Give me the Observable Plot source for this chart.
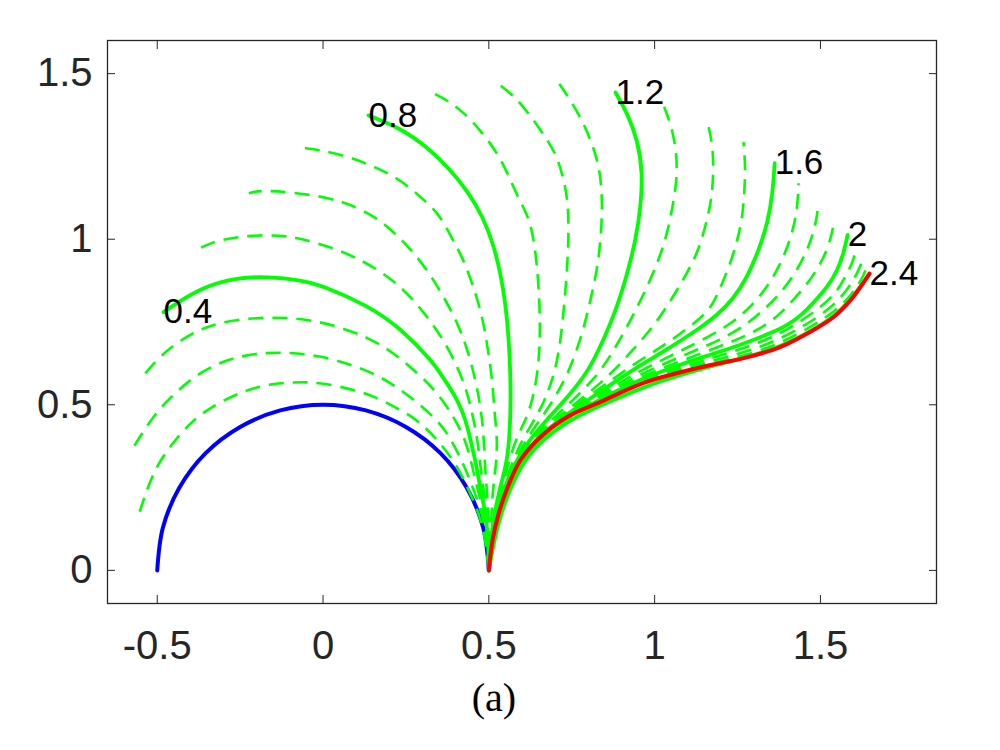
<!DOCTYPE html>
<html><head><meta charset="utf-8">
<script src="https://cdn.jsdelivr.net/npm/d3@7"></script>
<script src="https://cdn.jsdelivr.net/npm/@observablehq/plot@0.6"></script>
<style>
body{margin:0;background:#fff;}
#wrap{position:relative;width:1000px;height:750px;background:#fff;overflow:hidden;}
#cap{position:absolute;left:0;width:988px;top:675px;text-align:center;font-family:"Liberation Serif",serif;font-size:40px;line-height:46px;color:#000;}
</style></head><body><div id="wrap"><div id="chart"></div><div id="cap">(a)</div></div>
<script>
const xTicks = [-0.5, 0, 0.5, 1, 1.5];
const yTicks = [0, 0.5, 1, 1.5];
const levels = [0.1,0.2,0.3,0.4,0.5,0.6,0.7,0.8,0.9,1.0,1.1,1.2,1.3,1.4,1.5,1.6,1.7,1.8,1.9,2.0,2.1,2.2,2.3,2.4];
const labeledLevels = [0.4,0.8,1.2,1.6,2,2.4];

const initialCurve = [[-0.5,0],[-0.483,0.129],[-0.433,0.25],[-0.354,0.354],[-0.25,0.433],[-0.129,0.483],[0,0.5],[0.129,0.483],[0.25,0.433],[0.354,0.354],[0.433,0.25],[0.483,0.129],[0.5,0]];
const finalCurve = [[1.648,0.896],[1.592,0.817],[1.540,0.765],[1.479,0.726],[1.380,0.675],[1.281,0.644],[1.169,0.620],[1.069,0.596],[0.967,0.566],[0.837,0.509],[0.737,0.464],[0.656,0.403],[0.596,0.334],[0.557,0.252],[0.530,0.173],[0.511,0.091],[0.5,0]];

const g01 = [[-0.553,0.177],[-0.511,0.304],[-0.454,0.385],[-0.400,0.446],[-0.339,0.494],[-0.218,0.554],[-0.107,0.569],[-0.007,0.569],[0.134,0.536],[0.204,0.500],[0.264,0.468],[0.303,0.436],[0.346,0.394],[0.403,0.319],[0.439,0.244],[0.472,0.168],[0.490,0.093],[0.5,0]];
const g02 = [[-0.571,0.373],[-0.520,0.455],[-0.469,0.515],[-0.369,0.605],[-0.249,0.651],[-0.137,0.660],[-0.007,0.651],[0.134,0.605],[0.204,0.566],[0.264,0.524],[0.334,0.464],[0.376,0.416],[0.425,0.319],[0.454,0.244],[0.481,0.168],[0.494,0.093],[0.5,0]];
const g03 = [[-0.547,0.581],[-0.490,0.651],[-0.408,0.711],[-0.318,0.750],[-0.188,0.765],[-0.068,0.762],[0.032,0.741],[0.134,0.705],[0.213,0.657],[0.285,0.596],[0.346,0.536],[0.394,0.464],[0.430,0.394],[0.449,0.319],[0.466,0.244],[0.487,0.168],[0.497,0.093],[0.5,0]];
const g04 = [[-0.481,0.780],[-0.369,0.856],[-0.249,0.886],[-0.167,0.886],[-0.068,0.877],[-0.007,0.862],[0.134,0.801],[0.234,0.732],[0.334,0.627],[0.367,0.575],[0.406,0.515],[0.430,0.455],[0.445,0.394],[0.462,0.319],[0.475,0.244],[0.491,0.168],[0.498,0.093],[0.5,0]];
const g05 = [[-0.372,0.973],[-0.339,0.988],[-0.300,1.000],[-0.218,1.012],[-0.128,1.012],[-0.068,1.003],[0.023,0.976],[0.098,0.946],[0.183,0.898],[0.255,0.838],[0.315,0.765],[0.364,0.696],[0.406,0.614],[0.436,0.536],[0.454,0.455],[0.466,0.394],[0.474,0.319],[0.484,0.244],[0.495,0.168],[0.499,0.093],[0.5,0]];
const g06 = [[-0.224,1.139],[-0.188,1.148],[-0.098,1.142],[0.014,1.127],[0.104,1.097],[0.173,1.057],[0.225,1.010],[0.264,0.970],[0.315,0.907],[0.364,0.826],[0.406,0.747],[0.436,0.666],[0.460,0.575],[0.475,0.494],[0.484,0.416],[0.488,0.319],[0.494,0.244],[0.499,0.168],[0.501,0.093],[0.5,0]];
const g07 = [[-0.055,1.275],[-0.007,1.269],[0.083,1.248],[0.164,1.215],[0.234,1.179],[0.294,1.128],[0.346,1.080],[0.376,1.028],[0.400,0.982],[0.424,0.937],[0.454,0.856],[0.481,0.765],[0.496,0.675],[0.511,0.575],[0.517,0.476],[0.526,0.394],[0.522,0.319],[0.512,0.244],[0.508,0.168],[0.504,0.093],[0.5,0]];
const g08 = [[0.137,1.374],[0.234,1.335],[0.315,1.278],[0.385,1.209],[0.440,1.140],[0.482,1.067],[0.512,0.990],[0.535,0.900],[0.551,0.800],[0.560,0.700],[0.565,0.600],[0.566,0.500],[0.562,0.394],[0.553,0.319],[0.532,0.244],[0.516,0.168],[0.506,0.093],[0.5,0]];
const g09 = [[0.334,1.440],[0.376,1.419],[0.424,1.383],[0.475,1.329],[0.526,1.260],[0.556,1.200],[0.587,1.128],[0.617,1.073],[0.632,1.019],[0.644,0.937],[0.653,0.817],[0.655,0.700],[0.648,0.600],[0.632,0.515],[0.612,0.455],[0.580,0.394],[0.558,0.319],[0.537,0.244],[0.519,0.168],[0.507,0.093],[0.5,0]];
const g10 = [[0.526,1.471],[0.566,1.440],[0.596,1.410],[0.635,1.360],[0.677,1.299],[0.707,1.248],[0.726,1.178],[0.738,1.118],[0.741,1.037],[0.738,0.937],[0.729,0.817],[0.717,0.696],[0.700,0.600],[0.670,0.515],[0.638,0.455],[0.600,0.394],[0.568,0.319],[0.541,0.244],[0.521,0.168],[0.508,0.093],[0.5,0]];
const g11 = [[0.711,1.471],[0.747,1.419],[0.786,1.350],[0.816,1.278],[0.837,1.200],[0.843,1.097],[0.837,0.998],[0.828,0.916],[0.807,0.817],[0.783,0.717],[0.747,0.614],[0.720,0.560],[0.695,0.515],[0.655,0.455],[0.612,0.394],[0.572,0.319],[0.543,0.244],[0.522,0.168],[0.508,0.093],[0.5,0]];
const g12 = [[0.882,1.443],[0.918,1.380],[0.949,1.299],[0.964,1.200],[0.958,1.097],[0.943,0.998],[0.918,0.898],[0.887,0.795],[0.846,0.696],[0.798,0.596],[0.730,0.515],[0.675,0.455],[0.622,0.394],[0.575,0.319],[0.545,0.244],[0.523,0.168],[0.508,0.093],[0.5,0]];
const g13 = [[1.027,1.404],[1.048,1.350],[1.064,1.278],[1.069,1.200],[1.058,1.118],[1.039,1.019],[1.010,0.930],[0.970,0.840],[0.925,0.750],[0.880,0.670],[0.830,0.590],[0.755,0.515],[0.690,0.455],[0.628,0.394],[0.578,0.319],[0.547,0.244],[0.524,0.168],[0.509,0.093],[0.5,0]];
const g14 = [[1.160,1.353],[1.175,1.284],[1.178,1.209],[1.172,1.118],[1.154,1.043],[1.133,0.967],[1.095,0.892],[1.050,0.817],[1.000,0.741],[0.935,0.666],[0.860,0.584],[0.775,0.515],[0.700,0.455],[0.632,0.394],[0.580,0.319],[0.548,0.244],[0.525,0.168],[0.509,0.093],[0.5,0]];
const g15 = [[1.268,1.293],[1.274,1.218],[1.271,1.148],[1.265,1.067],[1.250,0.998],[1.229,0.928],[1.199,0.856],[1.169,0.786],[1.105,0.735],[1.030,0.680],[0.940,0.625],[0.850,0.560],[0.785,0.515],[0.706,0.455],[0.636,0.394],[0.582,0.319],[0.549,0.244],[0.525,0.168],[0.509,0.093],[0.5,0]];
const g16 = [[1.362,1.230],[1.356,1.139],[1.341,1.049],[1.314,0.967],[1.280,0.886],[1.235,0.817],[1.190,0.772],[1.130,0.727],[1.050,0.675],[0.950,0.615],[0.850,0.550],[0.800,0.515],[0.712,0.455],[0.639,0.394],[0.583,0.319],[0.550,0.244],[0.526,0.168],[0.510,0.093],[0.5,0]];
const g17 = [[1.434,1.169],[1.431,1.097],[1.416,1.019],[1.386,0.937],[1.341,0.856],[1.289,0.795],[1.240,0.752],[1.180,0.715],[1.100,0.673],[1.050,0.649],[0.950,0.599],[0.850,0.540],[0.815,0.515],[0.716,0.455],[0.641,0.394],[0.584,0.319],[0.551,0.244],[0.526,0.168],[0.510,0.093],[0.5,0]];
const g18 = [[1.495,1.112],[1.485,1.037],[1.461,0.967],[1.425,0.898],[1.380,0.837],[1.329,0.786],[1.270,0.737],[1.200,0.697],[1.150,0.676],[1.050,0.633],[0.950,0.589],[0.850,0.533],[0.825,0.515],[0.719,0.455],[0.643,0.394],[0.585,0.319],[0.551,0.244],[0.527,0.168],[0.510,0.093],[0.5,0]];
const g19 = [[1.543,1.061],[1.531,0.998],[1.507,0.937],[1.470,0.877],[1.419,0.817],[1.370,0.765],[1.310,0.725],[1.250,0.697],[1.150,0.659],[1.050,0.621],[0.950,0.581],[0.850,0.528],[0.721,0.455],[0.644,0.394],[0.586,0.319],[0.552,0.244],[0.527,0.168],[0.510,0.093],[0.5,0]];
const g20 = [[1.582,1.013],[1.570,0.958],[1.552,0.907],[1.522,0.856],[1.479,0.808],[1.440,0.768],[1.400,0.740],[1.350,0.716],[1.250,0.677],[1.150,0.646],[1.050,0.612],[0.950,0.574],[0.850,0.524],[0.722,0.455],[0.645,0.394],[0.587,0.319],[0.552,0.244],[0.527,0.168],[0.510,0.093],[0.5,0]];
const g21 = [[1.609,0.973],[1.597,0.928],[1.570,0.877],[1.540,0.826],[1.450,0.756],[1.350,0.700],[1.250,0.664],[1.150,0.635],[1.050,0.604],[0.950,0.570],[0.850,0.521],[0.723,0.455],[0.646,0.394],[0.587,0.319],[0.553,0.244],[0.527,0.168],[0.510,0.093],[0.5,0]];
const g22 = [[1.627,0.937],[1.612,0.898],[1.582,0.847],[1.530,0.790],[1.450,0.737],[1.350,0.685],[1.250,0.652],[1.150,0.627],[1.050,0.598],[0.950,0.566],[0.850,0.519],[0.724,0.455],[0.647,0.394],[0.588,0.319],[0.553,0.244],[0.528,0.168],[0.511,0.093],[0.5,0]];
const g23 = [[1.639,0.913],[1.625,0.880],[1.600,0.840],[1.550,0.785],[1.450,0.721],[1.350,0.673],[1.250,0.643],[1.150,0.620],[1.050,0.594],[0.950,0.562],[0.850,0.517],[0.725,0.455],[0.647,0.394],[0.588,0.319],[0.553,0.244],[0.528,0.168],[0.511,0.093],[0.5,0]];
const g24 = [[1.648,0.896],[1.592,0.817],[1.540,0.765],[1.479,0.726],[1.380,0.675],[1.281,0.644],[1.169,0.617],[1.075,0.589],[0.975,0.557],[0.848,0.503],[0.750,0.458],[0.668,0.400],[0.607,0.334],[0.566,0.252],[0.537,0.173],[0.516,0.091],[0.5,0]];

const greenCurves = [g01,g02,g03,g04,g05,g06,g07,g08,g09,g10,g11,g12,g13,g14,g15,g16,g17,g18,g19,g20,g21,g22,g23,g24];

// rows drawn from the clamped base (0.5, 0) out to the free tip
const toRows = (pts, t) => pts.slice().reverse().map(([x, y]) => ({t, x, y}));
const dashedRows = [], solidRows = [], labelRows = [];
levels.forEach((t, i) => {
  const solid = labeledLevels.includes(+t.toFixed(1));
  (solid ? solidRows : dashedRows).push(...toRows(greenCurves[i], t));
  if (solid) labelRows.push({x: greenCurves[i][0][0], y: greenCurves[i][0][1], text: String(+t.toFixed(1))});
});

const chart = Plot.plot({
  width: 1000,
  height: 700,
  marginLeft: 107,
  marginRight: 64,
  marginTop: 40,
  marginBottom: 97,
  x: {domain: [-0.65, 1.85]},
  y: {domain: [-0.1, 1.6]},
  style: {fontFamily: "'Liberation Sans', Arial, sans-serif", fontSize: "40px", color: "#262626", background: "white"},
  marks: [
    Plot.line(toRows(initialCurve, 0), {x: "x", y: "y", stroke: "#0000ff", strokeWidth: 4, curve: "catmull-rom"}),
    Plot.line(dashedRows, {x: "x", y: "y", z: "t", stroke: "#00ff00", strokeWidth: 2.6, strokeDasharray: "15,9", strokeLinecap: "butt", curve: "basis"}),
    Plot.line(solidRows, {x: "x", y: "y", z: "t", stroke: "#00ff00", strokeWidth: 3.8, curve: "basis"}),
    Plot.line(toRows(finalCurve, 2.4), {x: "x", y: "y", stroke: "#ff0000", strokeWidth: 4, curve: "catmull-rom"}),
    Plot.text(labelRows, {x: "x", y: "y", text: "text", textAnchor: "start", fontSize: 35, fill: "#000"}),
    Plot.frame({stroke: "#262626", strokeWidth: 1.3}),
    Plot.axisX(xTicks, {anchor: "bottom", tickSize: -8, tickPadding: 35, tickFormat: d => String(d), label: null, fontSize: 40, fill: "#262626"}),
    Plot.axisX(xTicks, {anchor: "top", tickSize: -8, tickFormat: () => "", label: null}),
    Plot.axisY(yTicks, {anchor: "left", tickSize: -8, tickPadding: 23, tickFormat: d => String(d), label: null, fontSize: 40, fill: "#262626"}),
    Plot.axisY(yTicks, {anchor: "right", tickSize: -8, tickFormat: () => "", label: null})
  ]
});
document.getElementById("chart").appendChild(chart);
</script></body></html>
